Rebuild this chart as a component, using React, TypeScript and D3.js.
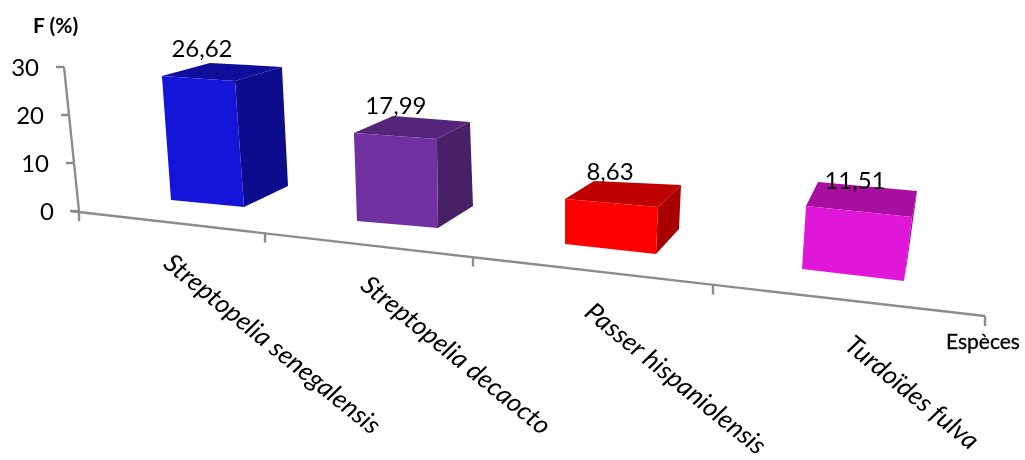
import React from "react";
import * as d3 from "d3";

const categories = ["Streptopelia senegalensis", "Streptopelia decaocto", "Passer hispaniolensis", "Turdoïdes fulva"];
const values = [26.62, 17.99, 8.63, 11.51];
const valueLabels = ["26,62", "17,99", "8,63", "11,51"];
const yTicks = [0, 10, 20, 30];
const frontColors = ["#1515d9", "#7030a0", "#ff0000", "#e017d8"];
const topColors = ["#0e0e9a", "#54257a", "#c00000", "#a80fa0"];
const sideColors = ["#0c0c8c", "#472066", "#a80000", "#980d92"];

const idx = [0, 1, 2, 3];
const s = (r: number[]) => d3.scaleLinear().domain(idx).range(r);
const frontX = s([171, 357, 565, 802]);
const frontY = s([200, 221, 244, 269]);
const bottomW = s([73, 81, 91, 102]);
const bottomDrop = s([7, 7, 10, 12]);
const topW = s([73, 83, 93, 106]);
const topDrop = s([5, 6, 8, 11]);
const unitH = s([4.66, 4.89, 5.2, 5.47]);
const lean = s([-0.34, -0.17, 0, 0.35]);
const floorDX = s([44, 35, 23, 3]);
const floorDY = s([-21, -22, -25, -18]);
const topRDX = s([47, 33, 23, 5]);
const topRDY = s([-14, -17, -22, -26]);
const topLDX = s([48, 39, 29, 12]);
const topLDY = s([-13, -17, -18, -24]);
const valueDX = s([40, 42, 45, 49]);
const valueDY = s([-6, -2, -1, 7]);

const yAxisX = d3.scaleLinear().domain([0, 30]).range([79, 64]);
const yAxisY = d3.scaleLinear().domain([0, 30]).range([211, 67]);
const xAxisX = d3.scaleLinear().domain([0, 1, 2, 3, 4]).range([79, 265, 473, 713, 985]);
const xAxisY = d3.scaleLinear().domain([79, 985]).range([211, 316]);

const labelX = s([162, 359, 583, 843]);
const labelY = s([266, 288, 315, 348]);
const pts = (p: number[][]) => p.map((q) => q.join(",")).join(" ");
const F = "Lato, Carlito, sans-serif";
const axisColor = "#8c8c8c";

export default function App() {
  return (
    <svg width={1025} height={460} style={{ position: "absolute", left: 0, top: 0, background: "#fff", filter: "blur(0.35px)" }}>
      <line x1={yAxisX(0)} y1={yAxisY(0)} x2={yAxisX(30)} y2={yAxisY(30)} stroke={axisColor} strokeWidth={2.4} />
      {yTicks.map((t) => (
        <g key={t}>
          <line x1={yAxisX(t) - 8} y1={yAxisY(t)} x2={yAxisX(t)} y2={yAxisY(t)} stroke={axisColor} strokeWidth={2.4} />
          <text x={yAxisX(t) - 25} y={yAxisY(t) + 9} textAnchor="end" fontFamily={F} fontSize={24} fill="#000">{t}</text>
        </g>
      ))}
      <line x1={70} y1={xAxisY(79)} x2={985} y2={xAxisY(985)} stroke={axisColor} strokeWidth={2.4} />
      {[0, 1, 2, 3, 4].map((t) => {
        const x = xAxisX(t), y = xAxisY(x);
        return <line key={t} x1={x} y1={y} x2={x} y2={y + 10} stroke={axisColor} strokeWidth={2.4} />;
      })}
      {values.map((v, i) => {
        const bl = [frontX(i), frontY(i)];
        const br = [bl[0] + bottomW(i), bl[1] + bottomDrop(i)];
        const tl = [bl[0] + lean(i) * v, bl[1] - unitH(i) * v];
        const tr = [tl[0] + topW(i), tl[1] + topDrop(i)];
        const bkBR = [br[0] + floorDX(i), br[1] + floorDY(i)];
        const bkTR = [tr[0] + topRDX(i), tr[1] + topRDY(i)];
        const bkTL = [tl[0] + topLDX(i), tl[1] + topLDY(i)];
        return (
          <g key={i}>
            <polygon points={pts([tr, bkTR, bkBR, br])} fill={sideColors[i]} />
            <polygon points={pts([tl, bkTL, bkTR, tr])} fill={topColors[i]} />
            <polygon points={pts([bl, tl, tr, br])} fill={frontColors[i]} />
            <text x={tl[0] + valueDX(i)} y={bkTL[1] + valueDY(i)} textAnchor="middle" fontFamily={F} fontSize={24} fill="#000">{valueLabels[i]}</text>
          </g>
        );
      })}
      {categories.map((c, i) => (
        <text key={c} transform={`translate(${labelX(i)},${labelY(i)}) rotate(39)`} fontFamily={F} fontStyle="italic" fontSize={26} fill="#000">{c}</text>
      ))}
      <text x={33} y={33} fontFamily={F} fontWeight={700} fontSize={21} fill="#000">F (%)</text>
      <text x={946} y={349} fontFamily={F} fontSize={21} fill="#000" stroke="#000" strokeWidth={0.3}>Espèces</text>
    </svg>
  );
}
